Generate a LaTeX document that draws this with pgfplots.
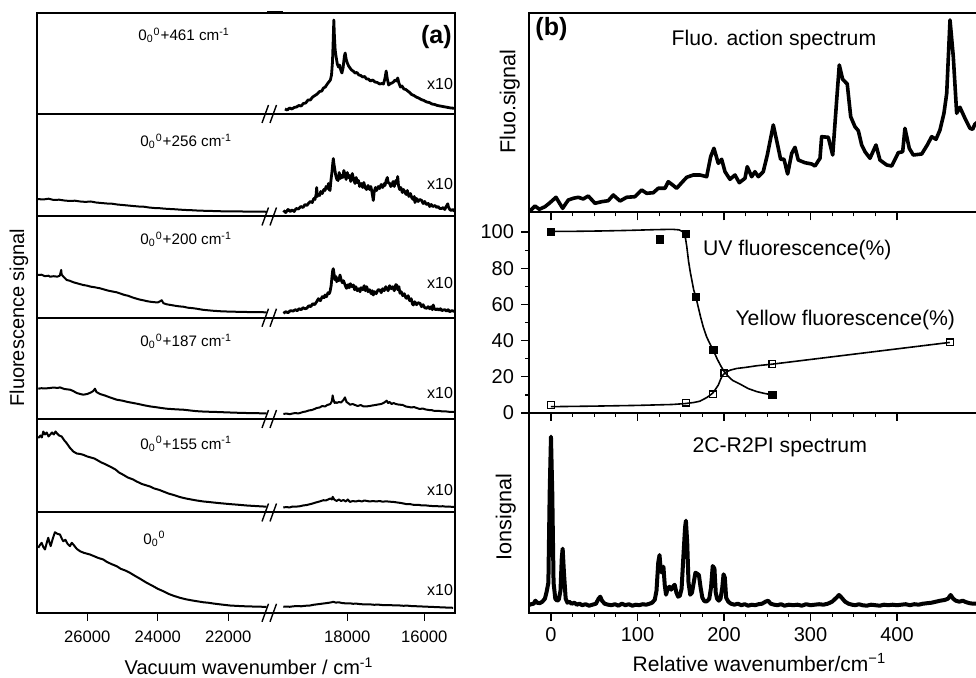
\documentclass[border=0pt]{standalone}
\usepackage{fontspec}
\setmainfont{Liberation Sans}
\usepackage{pgfplots}
\pgfplotsset{compat=1.18}
\usepackage{pgfplotstable}

% ---------- panel (a): spectra, w = wavenumber, h = signal ----------
\pgfplotstableread{
w h
19620 5
19560 4
19500 6
19440 5
19380 6.5
19320 7
19260 8.5
19200 8
19140 10.5
19080 11
19020 14
18960 14
18900 17
18840 18.5
18780 20
18720 22.5
18660 23
18620 26
18570 27
18520 30
18480 32
18440 34
18410 39
18385 52
18365 75
18350 94
18335 78
18315 64
18290 57
18260 50
18230 47
18200 49
18170 44
18140 41
18110 46
18075 58
18055 61
18030 55
18000 51
17965 48
17930 46
17890 44
17850 43
17800 41
17750 41.5
17700 39
17650 38.5
17600 37
17550 37.5
17500 35
17450 35
17400 33
17340 34
17280 32
17220 31.5
17160 30
17100 30.5
17060 30
17020 36
16990 43
16960 35
16925 29
16880 30.5
16840 31
16800 32
16760 34
16720 33
16690 36
16660 31
16620 27
16580 28
16530 25
16480 24.5
16430 23
16380 21.5
16330 19.5
16270 18.5
16210 17
16150 16
16080 14.5
16010 13.5
15940 12
15870 11.5
15800 10
15730 9.5
15660 8.5
15590 8
15520 7.5
15450 7
15380 6.5
15310 6
15240 5.8
15190 5.5
}\pAr

\pgfplotstableread{
w h
27420 17.5
27250 17
27100 17.8
26950 16.5
26800 16.8
26650 16
26500 15.5
26350 15.8
26200 15
26050 14.6
25900 15
25750 14
25600 13.5
25450 13
25300 12.8
25150 12
25000 11.5
24850 11
24700 10.5
24550 10
24400 9.8
24250 9
24100 8.5
23950 8.3
23800 7.8
23650 7.5
23500 7.2
23350 6.8
23200 6.5
23050 6.3
22900 6
22750 5.8
22600 5.6
22450 5.5
22300 5.3
22150 5.2
22000 5.1
21800 5
21600 5
21400 4.9
21200 4.8
21000 4.8
20900 4.7
}\pBl

\pgfplotstableread{
w h
19660 6
19600 4
19540 7
19480 5
19440 6.5
19380 5
19330 8
19270 7.5
19210 10
19150 9
19100 12
19050 11
19010 13
18960 15
18910 14
18870 18
18840 17
18810 22
18795 29
18780 20
18750 22
18720 21
18690 25
18650 23
18610 27
18580 26
18550 30
18510 28
18490 33
18470 27
18449 26
18425 36
18400 44
18380 52
18364 58
18345 52
18320 46
18300 41
18270 37
18240 36
18210 44
18180 38
18150 41
18120 39
18090 46
18060 42
18030 37
18000 44
17970 39
17940 41
17910 35
17870 43
17840 38
17800 33
17770 39
17740 34
17710 36
17680 30
17640 33
17600 29
17570 34
17540 29
17500 27
17460 31
17420 27
17390 30
17366 26
17340 20
17325 16
17300 25
17270 29
17240 26
17195 30
17160 28
17120 32
17080 29
17040 33
17021 31
16990 36
16960 39
16940 34
16900 33
16870 30
16847 31
16810 35
16780 30
16740 36
16710 33
16691 40
16670 31
16640 27
16610 29
16570 24
16540 27
16502 24
16470 22
16440 26
16400 20
16360 23
16328 19
16290 17
16260 20
16242 14
16200 18
16160 15
16120 17
16068 16
16030 13
15990 15
15950 12
15896 13
15860 10
15820 12
15780 10
15722 11
15680 9
15640 10
15600 8
15548 8
15510 9
15470 7
15430 10
15390 12.7
15377 10
15340 7
15300 6
15260 7
15220 5.5
15200 6
}\pBr

\pgfplotstableread{
w h
27400 42.7
27300 43
27200 41.5
27100 42
27058 41
26950 41.5
26850 41
26780 42
26740 47.7
26726 43
26650 40
26585 37.7
26500 37
26400 35.5
26300 34.5
26200 33.5
26114 32.7
26000 32
25900 31
25800 30.5
25700 29.8
25640 29.4
25500 28
25400 27
25300 26.3
25166 25.4
25050 24
24950 22.8
24850 22
24695 20
24600 19
24500 18
24400 17.3
24300 16.5
24221 16
24100 15.5
24000 15.3
23920 16.7
23889 17.5
23840 14.5
23748 13.4
23650 12.8
23550 12.2
23450 11.6
23350 11.2
23277 11
23150 10
23000 9.5
22900 9
22803 8.4
22700 7.8
22600 7.5
22450 7
22329 6.7
22200 6.4
22050 6.2
21858 6
21600 5.8
21350 5.6
21100 5.5
20911 5.4
}\pCl

\pgfplotstableread{
w h
19660 4.4
19600 6
19540 5
19480 7
19402 6.7
19350 8
19300 7
19250 9
19200 8
19150 10
19100 9
19054 9.4
19000 12
18950 11
18900 14
18850 13
18795 16
18750 19
18700 17
18650 21
18600 20
18579 22.7
18540 21
18500 25
18470 24
18449 26
18420 32
18395 42
18380 47
18364 49
18345 44
18320 38
18290 41
18275 36
18250 39
18220 37
18190 42.7
18160 38
18130 35
18100 37
18060 33
18030 30
18016 29.4
17980 33
17950 30
17920 34
17880 31
17844 32.7
17810 28
17780 31
17740 27
17700 29
17670 26
17640 30
17600 28
17560 32
17530 27
17496 31
17460 26
17420 28
17380 24
17350 27
17325 22.7
17290 26
17250 24
17200 28
17151 27.7
17120 25
17080 29
17040 27
17000 31
16977 29.4
16940 27
16900 32
16860 29
16820 31
16780 27
16740 33
16717 32.7
16690 28
16660 31
16631 24.4
16600 26
16560 22
16520 24
16480 20
16457 19.4
16420 22
16380 17
16340 19
16310 14
16286 12.7
16250 16
16200 13
16160 15
16112 14.4
16070 11
16030 13
15990 10
15938 9.4
15900 11
15860 9
15820 11
15790 8
15767 12.7
15740 9
15700 8
15660 9
15620 7.5
15580 9
15540 7
15507 7.7
15460 8
15420 6.5
15380 8
15340 6
15290 7
15247 6.7
15200 6
}\pCr

\pgfplotstableread{
w h
27390 30.3
27300 30.8
27200 30.5
27058 31
26950 31.5
26850 31
26775 31.6
26650 30
26490 29.3
26400 28
26300 26
26200 25
26114 24.3
26000 25
25900 26.5
25830 28
25782 30.3
25740 27
25640 25
25500 23.5
25350 21.5
25166 19.3
25000 18.3
24850 17
24695 16
24550 15
24400 13.8
24221 12.6
24050 11.8
23900 11
23748 10.3
23550 9.8
23400 9.5
23277 9.3
23100 8.6
22950 8
22803 7.6
22600 7.3
22329 7
22100 6.7
21800 6.3
21500 6
21200 5.8
20911 5.6
}\pDl

\pgfplotstableread{
w h
19660 5
19580 5.5
19500 4.8
19420 5.5
19350 6
19280 5.5
19228 6
19150 7
19080 7.5
19000 8.5
18920 9
18850 10
18795 11
18720 11.5
18650 13
18580 12.5
18520 14
18493 14.3
18440 15
18400 18
18380 23.6
18364 20
18330 16
18300 17
18275 16
18220 17
18160 16.5
18100 19
18060 21.6
18020 17
17980 16
17930 14.3
17860 15
17800 14
17730 13
17650 14
17580 12.5
17496 12.6
17420 13
17350 13.5
17270 14
17200 14.5
17120 15
17060 16
17020 17
16977 18.3
16940 16
16900 17
16850 15
16800 16
16740 15
16680 14.5
16631 14.3
16560 14
16480 12.5
16400 12
16330 11.5
16270 12
16198 11
16120 10
16040 10.5
15960 9.5
15880 9
15800 8.8
15767 8.3
15680 8
15600 8
15520 7.5
15440 7.6
15360 7.2
15280 7
15200 7
}\pDr

\pgfplotstableread{
w h
27390 74.4
27330 77
27290 75
27248 81
27200 78
27150 80
27100 76
27058 77.7
27000 80
26950 78
26900 81
26868 79.4
26800 77
26726 76
26650 72
26585 69.4
26500 65
26397 61
26300 59
26200 58.5
26114 57.7
26000 56
25900 55
25800 54
25733 52.7
25600 50
25500 48.5
25356 46
25200 43
25100 40
24979 37.7
24850 35
24700 33
24599 31
24450 28.5
24221 26
24100 24
23950 22.5
23844 21
23700 19
23550 17.5
23370 15.4
23200 14
23050 13
22896 12
22700 11
22550 10.5
22426 10
22200 9.2
21952 8.4
21700 7.7
21478 7
21250 6.5
21007 6
20911 5.8
}\pEl

\pgfplotstableread{
w h
19662 5
19580 5.5
19500 5
19420 6
19340 5.8
19228 6.3
19150 7
19050 7.5
18969 8.3
18900 9
18820 10
18720 11
18623 12.3
18560 12
18500 13
18440 14
18400 13
18379 15.6
18340 13
18300 12
18275 11.6
18220 13
18160 11.5
18100 12.5
18040 11
17990 13
17930 10.6
17860 11.5
17780 11
17700 11.8
17620 11
17560 12
17496 11.6
17420 11
17330 11.5
17250 11
17160 11.5
17080 10.8
16990 11.2
16900 10.8
16805 10.6
16700 10
16620 9.6
16540 9
16457 8.3
16380 8.5
16300 7.8
16220 7.5
16140 7.6
16060 7
15980 7.2
15900 6.8
15820 6.6
15767 6.3
15680 6.5
15600 6
15520 6.3
15440 5.8
15360 6
15280 5.6
15200 5.8
}\pEr

\pgfplotstableread{
w h
27390 65
27340 68
27294 70
27250 66
27200 63.3
27150 70
27107 75
27070 70
27038 66.7
26980 74
26917 80.6
26850 79
26775 78.3
26720 74
26681 71.6
26620 73
26560 69
26491 66.7
26440 70
26397 68.3
26300 64
26207 61.6
26100 60
25924 58.3
25800 56.5
25700 55
25546 53.3
25450 51
25300 48.5
25166 46.6
25050 44
24900 42
24789 40
24650 37
24500 34
24315 30
24150 27
24000 24
23844 21.6
23700 19
23550 17
23370 15
23200 13.5
23050 12.5
22896 11.6
22700 10.5
22550 10
22426 9.3
22200 8.3
21952 7.3
21700 6.8
21450 6.4
21200 6.2
21007 6
20911 6
}\pFl

\pgfplotstableread{
w h
19662 6
19580 6.3
19500 6
19400 6.5
19300 6.8
19200 6.5
19100 7
18969 7.3
18880 8
18780 8.5
18680 9
18580 9.5
18480 10
18400 10.6
18364 11
18300 10.2
18220 10.5
18140 9.8
18060 9.5
18016 9.3
17930 9.5
17850 9
17770 9.2
17690 8.8
17600 8.5
17496 8.3
17400 8.4
17300 8
17200 8.2
17100 7.8
17000 7.6
16900 7.8
16800 7.4
16700 7.5
16631 7.3
16540 7
16450 7.2
16350 6.8
16250 6.6
16150 6.5
16050 6.3
15950 6.1
15850 6
15750 5.8
15650 5.6
15550 5.5
15450 5.3
15350 5.2
15250 5
}\pFr

% ---------- panel (b) ----------
\pgfplotstableread{
r h
-25.1 0.6
-18.5 6.3
-13.5 3
-6.9 5.6
-1.2 9.6
5.8 15
13.5 4
20 12.3
25.8 14
31.6 15
37.3 13.3
43.1 16.3
50.9 9
58.6 10.6
66.2 11.6
72 17.3
79.8 11.3
87.5 15
97.1 15.6
104.9 22.3
110.6 19
118.3 19.6
124 24
131.8 24
135.6 30.6
140.7 27.3
145.3 24
151.1 29.6
156.9 35
164.5 37.3
172.3 37.3
180 35.6
184.6 55.6
188.4 64
193.4 49
197.3 53
201.2 40.6
206.9 33
212.7 37.3
217.7 29.6
224.3 34
226.9 45.6
232 35.6
235.8 40.6
239.7 35.6
245.4 40.6
250.1 57.3
257 87.3
261.6 69
265.5 53
269.4 53
273.6 38.3
278.3 59
282.1 65
285.9 52.3
293.6 49.6
301.4 48.3
305.2 46.3
311 54
312.9 75.6
320.6 75
325.7 57.3
330.3 112.3
333.3 147.3
337.2 133
342.5 128.3
346.5 95.6
351.4 85.6
355.3 81.6
359.2 67.3
363 60.6
368.8 54
375.7 67.3
380.3 52.3
388.1 47.3
393.9 46.3
401.5 59.6
406.6 60.6
409.2 84
414.2 64
418.8 57.3
428.6 58.3
435 67.3
440.1 75.6
445.1 73
449.7 82.3
454.3 99
457.5 119
461.3 192.3
465.1 155.6
469 99
472.8 105
478.6 94
484.4 84
487.5 83
490 88
494 91
}\fluo

\pgfplotstableread{
r h
-25.4 7.7
-23 8.5
-20 9
-18 12
-16 10
-13 9.5
-10 11
-7 14
-5 21
-3 30
-1.5 120
0 176
1.5 120
3 30
5 14
7 12
9 13
11 22
12.5 55
13.5 64
15 40
17 14
19 10
21 11
24 9
27 10
30 8
33 9
36 7.5
40 8.5
44 7
48 8
52 9
55 14
57 16
59 12
62 9
66 8
70 7.5
74 8.5
78 7
82 9
86 7.5
90 8.5
94 7
98 8
102 7.5
106 8.5
110 8
114 9
117 10
120 13
122 22
124 50
125.5 57.7
127 42
128.5 40
130 46
131.5 28
133 18
135 24
137 26
139 23
141 26
143 28
145 20
147 16
149 17
151 24
153 55
155 85
156 92
157.5 70
159 30
161 18
163 20
165 30
167 40
169 39
171 37.7
173 25
175 15
177 12
179 11
181 12
183 14
185 25
187 46.7
189 44
190.5 20
192 14
194 12
196 14
198 25
199.5 38.4
201 35
202.5 15
205 11
208 9
212 8
216 9
220 7.5
224 8.5
228 7
232 8
236 7.5
240 8.5
244 9
248 11
251 12
254 9
258 8
262 7.5
266 8.5
270 7
275 8
280 7.5
285 8
290 7
295 8.5
300 7.5
305 8
310 8.5
315 8
320 9
325 11
330 15
333 17.7
336 15
340 11
344 9
348 8
352 7.5
356 8.5
360 7.5
365 7
370 8
375 7.5
380 7
385 8
390 7.5
395 8
400 7.5
405 8
410 8.5
415 7.5
420 8.5
425 8
430 9
435 9.5
440 10
445 11
450 12
455 12.7
459 14
462 17.7
465 14
468 12
472 11
476 12
480 10.5
484 9.5
488 9
494 9
}\ion

\pgfplotstableread{
r p
0 100.3
30 100.4
60 100.6
90 100.9
120 101.3
140 101.5
148 101.2
152 100.3
155 98
157 92
159 84
161 78
163 73
165 68
167.6 64
170 59
173 53
176 47.6
180 42
184 38
187.6 34.8
192 30
196 26.3
200 23
205 20.2
210 18
218.5 16
228 13.5
238 11.8
247 10.8
256 10
}\uvfit

\pgfplotstableread{
r p
0 100
125.7 96
156 99
167.6 64.2
187.6 34.8
256 9.9
}\uvpts

\pgfplotstableread{
r p
0 3.5
50 3.8
100 4.2
140 4.7
155 5.2
165 5.8
172 6.5
176 7.5
180 8.5
183 9.5
187 11
190 13
193.5 15.5
196 18.5
198 20.5
200 21.5
203 22.8
208 23.8
214.7 24.6
225 25.2
237.8 26.1
256 27
461 39
}\yefit

\pgfplotstableread{
r p
0 4.4
156 5.7
187.6 10.3
200.4 21.9
256 27
461.6 39
}\yepts

\pgfplotsset{
  /pgf/number format/assume math mode=true,
  leftpanel/.style={scale only axis, width=208.85pt, anchor=south west,
    x dir=reverse, xmin=15569, xmax=27418, ymin=0, scaled x ticks=false,
    xtick=\empty, ytick=\empty, axis line style={line width=1pt}, clip=false},
  rightpanel/.style={scale only axis, width=225.5pt, anchor=south west,
    xmin=-25.4, xmax=496, ymin=0, axis line style={line width=1pt}, clip=false,
    major tick length=4pt, minor tick length=2pt, tick align=outside,
    xtick={0,100,200,300,400}, minor x tick num=3, xtick pos=bottom,
    every tick/.style={black, line width=0.6pt}},
  spec/.style={black, line width=1pt, line join=round},
  specn/.style={black, line width=1.4pt, line join=round},
}
\newcommand\zz{0\textsubscript{0}\textsuperscript{0}}
\newcommand\annfont{\fontsize{7.6}{10}\selectfont}
\newcommand\brk[1]{\draw[line width=0.7pt, yshift=-#1pt] (131pt,-4.5pt) -- (134.25pt,4.5pt) (135pt,-4.5pt) -- (138.25pt,4.5pt);}
\tikzset{ann/.style={inner sep=0pt}}

\begin{document}
\begin{tikzpicture}
\useasboundingbox (0,0) rectangle (488pt,-339pt);

% ----- panel (a) -----
\begin{axis}[leftpanel, at={(18.65pt,-57pt)}, height=50.5pt, ymax=101]
\addplot[specn] table[x expr=1.092*\thisrow{w}-1032, y=h] {\pAr};
\node[ann, anchor=base west, font=\annfont] at (rel axis cs:0.241,0.723) {\zz+461 cm\textsuperscript{-1}};
\node[ann, anchor=base east, font=\fontsize{8}{10}\selectfont] at (rel axis cs:0.996,0.238) {x10};
\node[ann, anchor=base east, font=\fontsize{12.5}{14}\selectfont\bfseries] at (rel axis cs:0.993,0.695) {(a)};
\end{axis}

\begin{axis}[leftpanel, at={(18.65pt,-108.25pt)}, height=51.25pt, ymax=102.5]
\addplot[spec] table[x=w, y=h] {\pBl};
\addplot[specn] table[x expr=1.092*\thisrow{w}-1032, y=h] {\pBr};
\node[ann, anchor=base west, font=\annfont] at (rel axis cs:0.246,0.681) {\zz+256 cm\textsuperscript{-1}};
\node[ann, anchor=base east, font=\fontsize{8}{10}\selectfont] at (rel axis cs:0.996,0.259) {x10};
\end{axis}

\begin{axis}[leftpanel, at={(18.65pt,-158.85pt)}, height=50.6pt, ymax=101.2,
  ylabel={Fluorescence signal},
  ylabel style={at={(axis description cs:-0.0438,0)}, anchor=center, font=\fontsize{10}{12}\selectfont}]
\addplot[spec] table[x=w, y=h] {\pCl};
\addplot[specn] table[x expr=1.092*\thisrow{w}-1032, y=h] {\pCr};
\node[ann, anchor=base west, font=\annfont] at (rel axis cs:0.246,0.72) {\zz+200 cm\textsuperscript{-1}};
\node[ann, anchor=base east, font=\fontsize{8}{10}\selectfont] at (rel axis cs:0.996,0.29) {x10};
\end{axis}

\begin{axis}[leftpanel, at={(18.65pt,-209.5pt)}, height=50.65pt, ymax=101.3]
\addplot[spec] table[x=w, y=h] {\pDl};
\addplot[spec] table[x expr=1.092*\thisrow{w}-1032, y=h] {\pDr};
\node[ann, anchor=base west, font=\annfont] at (rel axis cs:0.246,0.714) {\zz+187 cm\textsuperscript{-1}};
\node[ann, anchor=base east, font=\fontsize{8}{10}\selectfont] at (rel axis cs:0.996,0.207) {x10};
\end{axis}

\begin{axis}[leftpanel, at={(18.65pt,-256.25pt)}, height=46.75pt, ymax=93.5]
\addplot[spec] table[x=w, y=h] {\pEl};
\addplot[spec] table[x expr=1.092*\thisrow{w}-1032, y=h] {\pEr};
\node[ann, anchor=base west, font=\annfont] at (rel axis cs:0.246,0.679) {\zz+155 cm\textsuperscript{-1}};
\node[ann, anchor=base east, font=\fontsize{8}{10}\selectfont] at (rel axis cs:0.996,0.185) {x10};
\end{axis}

\begin{axis}[leftpanel, at={(18.65pt,-306.4pt)}, height=50.15pt, ymax=100.3,
  xtick={26000,24000,22000,18624,16440},
  xticklabels={26000,24000,22000,18000,16000},
  xtick pos=bottom, tick align=outside, major tick length=4pt,
  every tick/.style={black, line width=0.6pt},
  xticklabel style={font=\fontsize{8.3}{10}\selectfont, yshift=-1.7pt},
  xlabel={Vacuum wavenumber / cm\textsuperscript{-1}},
  xlabel style={at={(axis description cs:0.507,0)}, anchor=base, yshift=-31pt, font=\fontsize{10}{12}\selectfont}]
\addplot[spec] table[x=w, y=h] {\pFl};
\addplot[spec] table[x expr=1.092*\thisrow{w}-1032, y=h] {\pFr};
\node[ann, anchor=base west, font=\annfont] at (rel axis cs:0.253,0.681) {\zz};
\node[ann, anchor=base east, font=\fontsize{8}{10}\selectfont] at (rel axis cs:0.996,0.172) {x10};
\end{axis}

\brk{57}\brk{108.25}\brk{158.85}\brk{209.5}\brk{256.25}\brk{306.4}
\draw[line width=1.5pt] (133.5pt,-6.5pt) -- (141.5pt,-6.5pt);

% ----- panel (b) -----
\begin{axis}[rightpanel, at={(264.5pt,-106.15pt)}, height=99.65pt, ymax=199.3,
  xticklabels={}, ytick=\empty,
  ylabel={Fluo.signal},
  ylabel style={at={(axis description cs:-0.0426,0.555)}, anchor=center, font=\fontsize{10.8}{12}\selectfont}]
\addplot[black, line width=1.8pt, line join=round] table[x=r, y=h] {\fluo};
\node[ann, anchor=base west, font=\fontsize{12.5}{14}\selectfont\bfseries] at (rel axis cs:0.0135,0.885) {(b)};
\node[ann, anchor=base, font=\fontsize{10.6}{12}\selectfont] at (rel axis cs:0.543,0.839) {Fluo. action spectrum};
\end{axis}

\begin{axis}[rightpanel, at={(264.5pt,-206.5pt)}, height=100.35pt, ymax=110.9,
  xticklabels={}, ytick={0,20,40,60,80,100}, minor y tick num=1, ytick pos=left,
  yticklabel style={font=\fontsize{10}{12}\selectfont}]
\addplot[black, line width=0.8pt] table[x=r, y=p] {\uvfit};
\addplot[black, line width=0.8pt] table[x=r, y=p] {\yefit};
\addplot[black, only marks, mark=square*, mark size=1.9pt] table[x=r, y=p] {\uvpts};
\addplot[black, only marks, mark=square, mark size=1.7pt, line width=0.6pt, mark options={fill=white}] table[x=r, y=p] {\yepts};
\node[ann, anchor=base west, font=\fontsize{10.6}{12}\selectfont] at (rel axis cs:0.385,0.787) {UV fluorescence(\%)};
\node[ann, anchor=base west, font=\fontsize{10.6}{12}\selectfont] at (rel axis cs:0.457,0.4335) {Yellow fluorescence(\%)};
\end{axis}

\begin{axis}[rightpanel, at={(264.5pt,-306.35pt)}, height=99.85pt, ymax=199.7,
  ytick=\empty,
  xticklabel style={font=\fontsize{10}{12}\selectfont},
  xlabel={Relative wavenumber/cm\textsuperscript{−1}},
  xlabel style={at={(axis description cs:0.511,0)}, anchor=base, yshift=-29.6pt, font=\fontsize{10.5}{12}\selectfont},
  ylabel={Ionsignal},
  ylabel style={at={(axis description cs:-0.0516,0.479)}, anchor=center, font=\fontsize{10.8}{12}\selectfont}]
\addplot[black, line width=2pt, line join=round] table[x=r, y=h] {\ion};
\node[ann, anchor=base, font=\fontsize{10.6}{12}\selectfont] at (rel axis cs:0.556,0.80) {2C-R2PI spectrum};
\end{axis}
\end{tikzpicture}
\end{document}
